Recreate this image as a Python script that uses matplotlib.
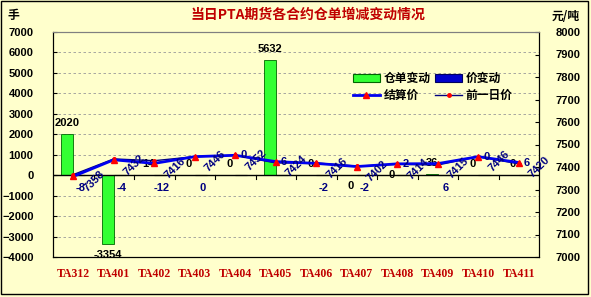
import matplotlib
matplotlib.use('Agg')
import matplotlib.pyplot as plt
from matplotlib.patches import Rectangle, Patch
from matplotlib.lines import Line2D

# ---- data ----
contracts = ['TA312', 'TA401', 'TA402', 'TA403', 'TA404', 'TA405',
             'TA406', 'TA407', 'TA408', 'TA409', 'TA410', 'TA411']
receipt_change = [2020, -3354, 14, 0, 0, 5632, 0, 0, 0, 36, 0, 0]   # 仓单变动 (手)
price_change = [-8, -4, -12, 0, 0, 6, -2, -2, 2, 6, 0, 6]          # 价变动
settle_price = [7358, 7432, 7416, 7446, 7452, 7424, 7416, 7402, 7414, 7415, 7446, 7420]  # 结算价
prev_price = [s - c for s, c in zip(settle_price, price_change)]   # 前一日价

# where the labels sit in the original picture
receipt_side = ['up', 'down', 'up', 'up', 'up', 'up', 'up', 'down', 'mid', 'up', 'up', 'up']
change_side = ['down', 'down', 'down', 'down', 'pt', 'pt', 'down', 'down', 'pt', 'down', 'pt', 'pt']

BG = '#FFFFCC'
RED = '#C00000'
NAVY = '#000080'
CJK = ['Noto Sans CJK SC', 'DejaVu Sans']
NUM = 'Liberation Sans'

fig = plt.figure(figsize=(5.91, 2.97), dpi=100)
fig.patch.set_facecolor(BG)
ax = fig.add_axes([53 / 591, 40 / 297, 486 / 591, 225 / 297])
ax.set_facecolor(BG)
ax2 = ax.twinx()

x = list(range(len(contracts)))
w = 0.3

# bars (primary axis)
ax.bar([i - w / 2 for i in x], receipt_change, width=w, color='#33FF33',
       edgecolor='#006600', linewidth=0.6, zorder=3)
ax.bar([i + w / 2 for i in x], price_change, width=w, color='#0000CC',
       edgecolor='#000000', linewidth=0.8, zorder=3)

ax.set_xlim(-0.5, len(contracts) - 0.5)
ax.set_ylim(-4000, 7000)
ax.set_yticks(range(-4000, 7001, 1000))
ax.yaxis.grid(True, linestyle=(0, (3, 3)), color='#999999', linewidth=0.6)
ax.set_axisbelow(True)
ax.axhline(0, color='black', linewidth=1, zorder=4)
# category ticks on the zero line
for b in range(1, len(contracts)):
    ax.plot([b - 0.5, b - 0.5], [0, -180], color='black', linewidth=0.8, zorder=4)

ax.set_xticks(x)
ax.set_xticklabels(contracts, fontfamily='Liberation Serif', fontweight='bold',
                   fontsize=8.5, color=RED)
ax.tick_params(axis='x', length=0, pad=8)
ax.tick_params(axis='y', direction='in', length=3, pad=14, labelsize=8)
for lab in ax.get_yticklabels():
    lab.set_fontfamily(NUM)
    lab.set_fontweight('bold')

ax.spines['top'].set_color('#808080')
for s in ['left', 'bottom']:
    ax.spines[s].set_color('black')

# lines (secondary axis)
ax2.set_ylim(7000, 8000)
ax2.set_yticks(range(7000, 8001, 100))
ax2.tick_params(axis='y', direction='in', length=3, pad=12, labelsize=8)
for lab in ax2.get_yticklabels():
    lab.set_fontfamily(NUM)
    lab.set_fontweight('bold')
ax2.spines['right'].set_color('black')
ax2.spines['top'].set_color('#808080')

ax2.plot(x, prev_price, color=NAVY, linewidth=1, marker='o', markersize=2.5,
         markerfacecolor='red', markeredgecolor='red', zorder=5)
ax2.plot(x, settle_price, color='#0000EE', linewidth=2, marker='^', markersize=5,
         markerfacecolor='red', markeredgecolor='red', zorder=6)

lab_kw = dict(fontfamily=NUM, fontweight='bold', fontsize=8, ha='center', va='center')

# settlement price labels, rotated
for i, v in enumerate(settle_price):
    ax2.annotate(str(v), (i, v), xytext=(15, -3.5), textcoords='offset points',
                 rotation=45, color=NAVY, zorder=7, **lab_kw)

# receipt change labels
for i, v in enumerate(receipt_change):
    if receipt_side[i] == 'up':
        yoff = 8
    elif receipt_side[i] == 'down':
        yoff = -8
    else:
        yoff = 0
    yv = v if v != 0 and receipt_side[i] != 'mid' else 0
    ax.annotate(str(v), (i - w / 2, yv), xytext=(0, yoff),
                textcoords='offset points', color='black', zorder=7, **lab_kw)

# price change labels
for i, v in enumerate(price_change):
    if change_side[i] == 'down':
        ax.annotate(str(v), (i + w / 2, 0), xytext=(1, -9.5),
                    textcoords='offset points', color=NAVY, zorder=7, **lab_kw)
    else:
        ax2.annotate(str(v), (i, settle_price[i]), xytext=(6, 0),
                     textcoords='offset points', color=NAVY, zorder=7, **lab_kw)

# legend
handles = [
    Patch(facecolor='#33FF33', edgecolor='#006600', linewidth=0.8),
    Line2D([], [], color='#0000EE', linewidth=2, marker='^', markersize=5,
           markerfacecolor='red', markeredgecolor='red'),
    Patch(facecolor='#0000CC', edgecolor='#000060', linewidth=0.8),
    Line2D([], [], color=NAVY, linewidth=1, marker='o', markersize=2.5,
           markerfacecolor='red', markeredgecolor='red'),
]
labels = ['仓单变动', '结算价', '价变动', '前一日价']
ax2.legend(handles, labels, ncol=2, loc='upper left', bbox_to_anchor=(0.595, 0.87),
           frameon=False, handlelength=2.3, handleheight=0.7, handletextpad=0.3,
           columnspacing=0.4, labelspacing=0.35,
           prop={'family': CJK, 'weight': 'bold', 'size': 8.5})

# titles and units
fig.text(308 / 591, 1 - 15 / 297, '当日PTA期货各合约仓单增减变动情况', ha='center', va='center',
         color=RED, fontsize=10, fontweight='bold', family=CJK)
fig.text(13 / 591, 1 - 16 / 297, '手', ha='center', va='center',
         fontsize=8.5, fontweight='bold', family=CJK)
fig.text(566 / 591, 1 - 16 / 297, '元/吨', ha='center', va='center',
         fontsize=8.5, fontweight='bold', family=CJK)

# outer frame
fig.patches.append(Rectangle((0.5 / 591, 3 / 297), 587 / 591, 293.5 / 297,
                             transform=fig.transFigure, fill=False,
                             edgecolor='black', linewidth=1))

fig.savefig('out.png', dpi=100, facecolor=BG)
